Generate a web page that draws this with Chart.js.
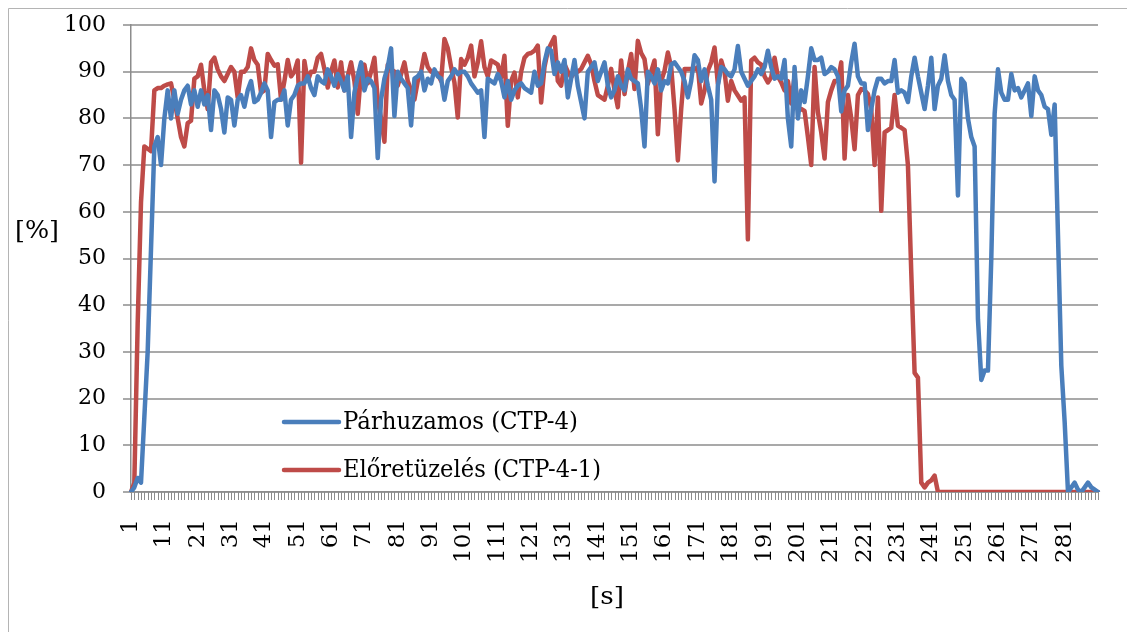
<!DOCTYPE html>
<html>
<head>
<meta charset="utf-8">
<script src="https://cdn.jsdelivr.net/npm/chart.js@4.4.1/dist/chart.umd.min.js"></script>
<style>
  html, body { margin: 0; padding: 0; background: #fff; }
  canvas { display: block; }
</style>
</head>
<body>
<canvas id="chart" width="1127" height="632"></canvas>
<script>
// time steps 1..291 [s]
const seconds = [];
for (let s = 1; s <= 291; s++) seconds.push(String(s));

const seriesNames = ['Párhuzamos (CTP-4)', 'Előretüzelés (CTP-4-1)'];
const yTicks = [0, 10, 20, 30, 40, 50, 60, 70, 80, 90, 100];

// Párhuzamos (CTP-4)
const parhuzamos = [
  0, 1, 3, 2, 16, 30, 52, 74, 76, 70,
  80, 86, 80, 86, 81, 84, 86, 87, 83, 86,
  82.5, 86, 83, 85, 77.5, 86, 85, 82, 77, 84.5,
  84, 78.5, 84, 85, 82.5, 86, 88, 83.5, 84, 85.5,
  87.5, 86, 76, 83.5, 84, 84, 86, 78.5, 84, 85,
  87, 87.5, 87.5, 89, 86.5, 85, 89, 88, 87.5, 90.5,
  89, 87, 89.5, 88, 86, 89, 76, 85.5, 89, 92,
  86, 88.5, 88, 86.5, 71.5, 84, 88.5, 91, 95, 80.5,
  90, 88.5, 87.5, 86.5, 78.5, 88.5, 89, 90, 86, 88.5,
  87.5, 90.5, 89, 88.5, 84, 88, 89, 90.5, 89.5, 90,
  90, 89, 87.5, 86.5, 85.5, 86, 76, 88.5, 88, 87.5,
  89.5, 88, 84.5, 88, 84, 86, 87, 87.5, 86.5, 86,
  85.5, 90, 87, 87.5, 92, 95, 94.5, 89.5, 92, 90,
  92.5, 84.5, 88.5, 92.5, 87, 83.5, 80, 90, 91, 92,
  88, 90, 92, 87, 84.5, 86, 89, 87, 86, 90.5,
  88.5, 88, 87.5, 82, 74, 90, 89, 87.5, 90.5, 86,
  88, 87.5, 91.5, 92, 91, 90, 88, 84.5, 88, 93.5,
  92.5, 88, 90.5, 87, 84, 66.5, 87, 91, 90.5, 89.5,
  89, 90.5, 95.5, 90, 88.5, 87, 88, 89, 90.5, 89.5,
  91, 94.5, 91, 88.5, 89, 88.5, 92.5, 80, 74, 91,
  80, 86, 83.5, 89, 95, 92.5, 92.5, 93, 89.5, 90,
  91, 90.5, 89, 81.5, 86, 87, 92, 96, 89, 87.5,
  87.5, 77.5, 82, 86, 88.5, 88.5, 87.5, 88, 88, 92.5,
  85.5, 86, 85.5, 83.5, 89, 93, 89, 85.5, 82, 87,
  93, 82, 87, 88.5, 93.5, 88, 85, 84, 63.5, 88.5,
  87.5, 80, 76, 74, 37, 24, 26, 26, 50, 81,
  90.5, 85.5, 84, 84, 89.5, 86, 86.5, 84.5, 86, 87.5,
  80.5, 89, 86, 85, 82.5, 82, 76.5, 83, 55, 27,
  15, 0, 1, 2, 0.5, 0, 1, 2, 1, 0.5,
  0
];

// Előretüzelés (CTP-4-1)
const eloretuzeles = [
  0, 2, 36, 62, 74, 73.5, 73, 86, 86.5, 86.5,
  87, 87.3, 87.5, 84, 80, 76, 74, 79, 79.5, 88.5,
  89, 91.5, 86, 82, 92, 93, 90.5, 89, 88, 89.5,
  91, 90, 84.5, 90, 90, 91, 95, 92.5, 91.5, 85.5,
  86, 93.8, 92.5, 91.3, 91.6, 84, 88, 92.5, 89, 90,
  92.4, 70.5, 92.3, 88, 90, 90, 93, 93.8, 90.6, 86.6,
  90, 92.4, 86.6, 92, 86, 89, 92, 88, 81, 90,
  91.5, 87.5, 90, 93, 84, 80, 75, 91.5, 90.5, 90,
  87, 89.5, 92, 88, 86, 84, 88, 90, 93.8, 91,
  90, 90, 89.5, 88, 97, 95, 91, 87.7, 80.2, 92.7,
  91.5, 93, 95.6, 89, 92, 96.5, 91, 89, 92.4, 92,
  91.5, 88.8, 93.4, 78.4, 88, 89.8, 84.5, 90, 93, 93.8,
  94, 94.5, 95.6, 83.4, 91, 94.5, 96, 97.4, 88, 87,
  91.6, 90, 88.8, 89.9, 90, 90.6, 92, 93.4, 91.6, 88,
  85, 84.5, 84, 87, 90.6, 86, 82.4, 92.4, 85.2, 90,
  93.8, 86.3, 96.6, 94, 92.7, 87.4, 90, 92.4, 76.6, 88,
  90.2, 94.1, 91, 82, 71, 82, 90.6, 90.6, 90.6, 90.5,
  91, 83.2, 86, 90.2, 92, 95.2, 87.4, 92.4, 90, 83.8,
  88, 86, 84.9, 83.8, 84.5, 54.1, 92.4, 93, 92, 91.5,
  89, 87.7, 88.8, 93, 89, 87.7, 86, 88, 83.2, 89.1,
  82, 82, 81.6, 76, 70, 91, 81.3, 77, 71.4, 83.5,
  86, 88, 88, 92, 71.4, 85, 80, 73.4, 85, 86.3,
  86, 85.2, 82, 70, 84.5, 60.2, 77, 77.5, 78, 85,
  78.4, 78, 77.5, 70, 47, 25.5, 24.5, 2, 1, 2,
  2.5, 3.5, 0, 0, 0, 0, 0, 0, 0, 0,
  0, 0, 0, 0, 0, 0, 0, 0, 0, 0,
  0, 0, 0, 0, 0, 0, 0, 0, 0, 0,
  0, 0, 0, 0, 0, 0, 0, 0, 0, 0,
  0, 0, 0, 0, 0, 0, 0, 0, 0, 0,
  0
];

const BLUE = '#4a7ebb';
const RED = '#be4b48';
const GRID = '#8c8c8c';
const FONT = '"DejaVu Serif", "Liberation Serif", serif';
const LAST_LABEL = 280; // last labelled index ("281")

// text stretched/squeezed sideways to a given width
function wideText(ctx, txt, x, y, width, align) {
  const k = width / ctx.measureText(txt).width;
  ctx.save();
  ctx.translate(align === 'center' ? x - width / 2 : x, y);
  ctx.scale(k, 1);
  ctx.textAlign = 'left';
  ctx.fillText(txt, 0, 0);
  ctx.restore();
}

const extras = {
  id: 'extras',
  afterDraw(chart) {
    const ctx = chart.ctx;
    const area = chart.chartArea;
    const sx = chart.scales.x, sy = chart.scales.y;
    ctx.save();

    // axis titles
    ctx.fillStyle = '#000';
    ctx.textBaseline = 'middle';
    ctx.font = '24px ' + FONT;
    wideText(ctx, '[%]', 37, 232, 44, 'center');
    wideText(ctx, '[s]', 607, 598, 34, 'center');

    // legend inside the plot
    const rows = [422, 470];
    const widths = [235, 258];
    chart.data.datasets.forEach((ds, i) => {
      const y = rows[i];
      ctx.strokeStyle = ds.borderColor;
      ctx.lineWidth = 4.5;
      ctx.lineCap = 'round';
      ctx.beginPath();
      ctx.moveTo(284, y);
      ctx.lineTo(339, y);
      ctx.stroke();
      ctx.fillStyle = '#000';
      ctx.font = '24px ' + FONT;
      wideText(ctx, ds.label, 343, y + 1, widths[i], 'left');
    });

    // grid, tick marks and frame go behind everything already drawn
    ctx.globalCompositeOperation = 'destination-over';
    ctx.lineCap = 'butt';
    ctx.strokeStyle = GRID;
    ctx.lineWidth = 1.5;
    yTicks.forEach(v => {
      const py = Math.round(sy.getPixelForValue(v));
      ctx.beginPath();
      ctx.moveTo(area.left - 8, py);
      ctx.lineTo(area.right, py);
      ctx.stroke();
    });
    ctx.lineWidth = 1;
    for (let i = 0; i < seconds.length; i++) {
      const px = Math.round(sx.getPixelForTick(i)) + 0.5;
      ctx.beginPath();
      ctx.moveTo(px, area.bottom);
      ctx.lineTo(px, area.bottom + 8);
      ctx.stroke();
    }
    ctx.strokeStyle = '#b4b4b4';
    ctx.beginPath();
    ctx.moveTo(8.5, 632);
    ctx.lineTo(8.5, 8.5);
    ctx.lineTo(1127, 8.5);
    ctx.stroke();
    ctx.restore();
  }
};

const canvas = document.getElementById('chart');
new Chart(canvas.getContext('2d'), {
  type: 'line',
  data: {
    labels: seconds,
    datasets: [{
      label: seriesNames[0],
      data: parhuzamos,
      borderColor: BLUE,
      borderWidth: 4.5,
      pointRadius: 0,
      tension: 0,
      borderJoinStyle: 'round',
      borderCapStyle: 'round'
    }, {
      label: seriesNames[1],
      data: eloretuzeles,
      borderColor: RED,
      borderWidth: 4.5,
      pointRadius: 0,
      tension: 0,
      borderJoinStyle: 'round',
      borderCapStyle: 'round'
    }]
  },
  options: {
    responsive: false,
    animation: false,
    devicePixelRatio: 1,
    layout: { padding: { left: 0, right: 29, top: 25, bottom: 0 } },
    plugins: {
      legend: { display: false },
      tooltip: { enabled: false }
    },
    scales: {
      x: {
        type: 'category',
        offset: false,
        afterFit: s => { s.height = 140; s.paddingLeft = 0; s.paddingRight = 0; },
        border: { color: GRID, width: 1.5 },
        grid: { display: false, drawTicks: true, tickLength: 8 },
        ticks: {
          autoSkip: false,
          minRotation: 90,
          maxRotation: 90,
          padding: 19,
          color: '#000',
          font: { family: FONT, size: 23 },
          callback: function (val, idx) {
            return (idx % 10 === 0 && idx <= LAST_LABEL) ? this.getLabelForValue(val) : '';
          }
        }
      },
      y: {
        min: yTicks[0],
        max: yTicks[yTicks.length - 1],
        afterFit: s => { s.width = 131; s.paddingTop = 0; s.paddingBottom = 0; },
        afterBuildTicks: s => { s.ticks = yTicks.map(v => ({ value: v })); },
        border: { color: GRID, width: 1.5 },
        grid: { display: false, drawTicks: true, tickLength: 8 },
        ticks: {
          padding: 17,
          color: '#000',
          font: { family: FONT, size: 22 }
        }
      }
    }
  },
  plugins: [extras]
});
</script>
</body>
</html>
